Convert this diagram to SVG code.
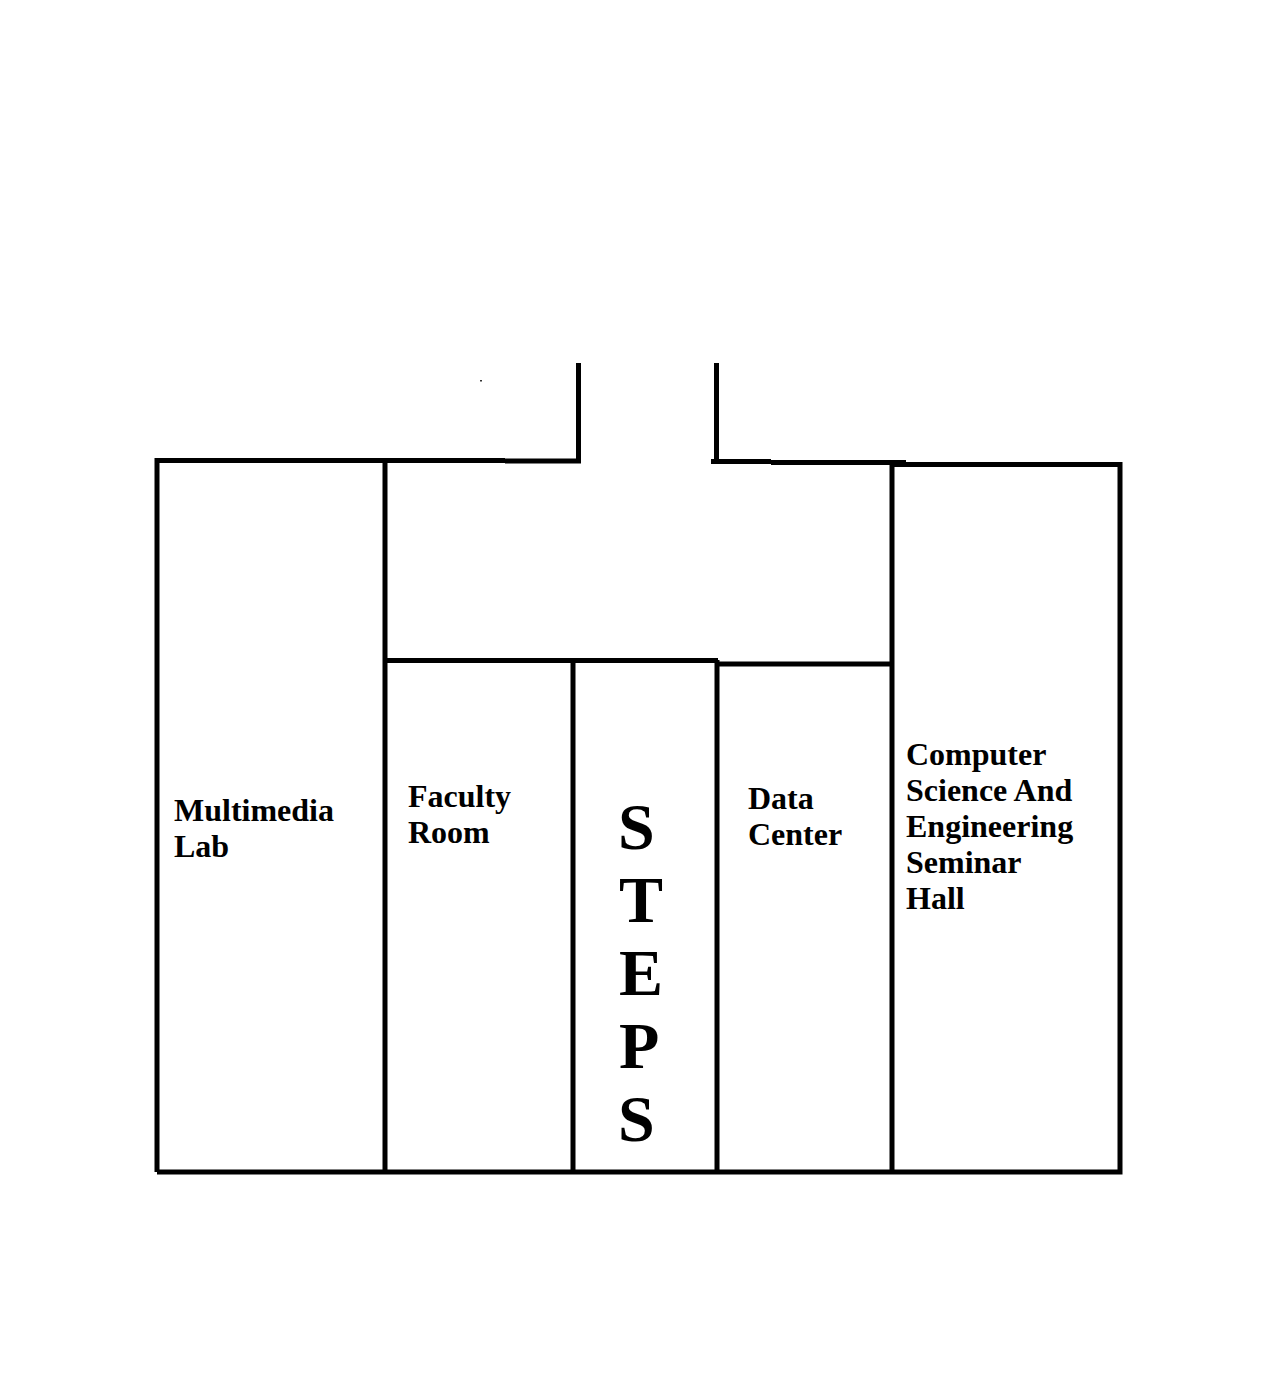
<svg xmlns="http://www.w3.org/2000/svg" width="1271" height="1373" viewBox="0 0 1271 1373">
<style>
.w{fill:none;stroke:#000;stroke-width:5}
.t{font-family:"Liberation Serif","Times New Roman",serif;font-weight:bold;font-size:32px;fill:#000}
.s{font-family:"Liberation Serif","Times New Roman",serif;font-weight:bold;font-size:66px;fill:#000}
</style>
<rect width="1271" height="1373" fill="#fff"/>
<g id="walls">
<path class="w" d="M157 1172V460.500H505"/>
<path class="w" d="M505 461H578.500V363"/>
<path class="w" d="M716.500 363V464"/>
<path class="w" d="M711 461.500H771"/>
<path class="w" d="M771 462.500H906"/>
<path class="w" d="M892 464.500H1120V1172H157"/>
<path class="w" d="M385 460V1172"/>
<path class="w" d="M385 660.500H718"/>
<path class="w" d="M573 660V1172"/>
<path class="w" d="M717 660V1172"/>
<path class="w" d="M717 664H892"/>
<path class="w" d="M892 462V1172"/>
<rect x="480" y="380" width="2" height="1.500" fill="#333"/>
</g>
<g id="multimedia-lab"><text class="t" x="174" y="821">Multimedia</text><text class="t" x="174" y="857">Lab</text></g>
<g id="faculty-room"><text class="t" x="408" y="807">Faculty</text><text class="t" x="408" y="843">Room</text></g>
<g id="steps">
<text class="s" x="618" y="849">S</text>
<text class="s" x="619" y="922">T</text>
<text class="s" x="619" y="995">E</text>
<text class="s" x="619" y="1068">P</text>
<text class="s" x="618" y="1141">S</text>
</g>
<g id="data-center"><text class="t" x="748" y="809">Data</text><text class="t" x="748" y="845">Center</text></g>
<g id="seminar-hall">
<text class="t" x="906" y="765">Computer</text>
<text class="t" x="906" y="801">Science And</text>
<text class="t" x="906" y="837">Engineering</text>
<text class="t" x="906" y="873">Seminar</text>
<text class="t" x="906" y="909">Hall</text>
</g>
</svg>
